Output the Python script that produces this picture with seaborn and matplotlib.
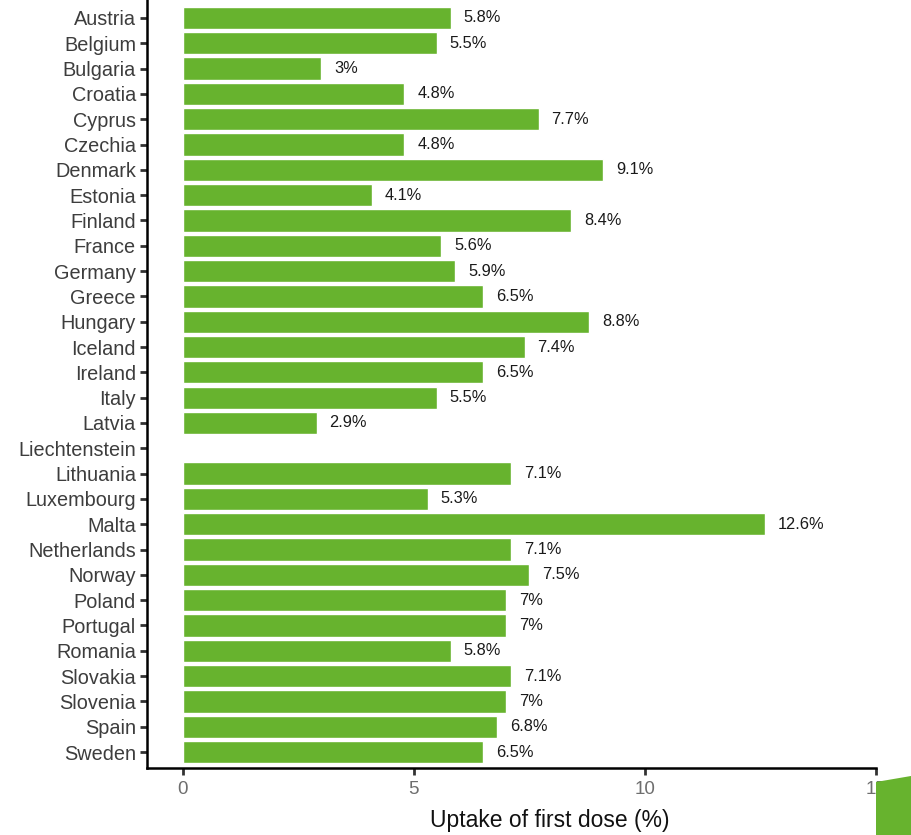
import matplotlib
matplotlib.use("Agg")
import matplotlib.pyplot as plt
import seaborn as sns
import numpy as np
import pandas as pd
from matplotlib.patches import Polygon

countries = ["Austria", "Belgium", "Bulgaria", "Croatia", "Cyprus", "Czechia", "Denmark",
             "Estonia", "Finland", "France", "Germany", "Greece", "Hungary", "Iceland",
             "Ireland", "Italy", "Latvia", "Liechtenstein", "Lithuania", "Luxembourg",
             "Malta", "Netherlands", "Norway", "Poland", "Portugal", "Romania", "Slovakia",
             "Slovenia", "Spain", "Sweden"]
uptake = [5.8, 5.5, 3, 4.8, 7.7, 4.8, 9.1, 4.1, 8.4, 5.6, 5.9, 6.5, 8.8, 7.4, 6.5, 5.5,
          2.9, np.nan, 7.1, 5.3, 12.6, 7.1, 7.5, 7, 7, 5.8, 7.1, 7, 6.8, 6.5]
x_ticks = [0, 5, 10, 15]

df = pd.DataFrame({"country": countries, "uptake": uptake})

sns.set_style("white")
plt.rcParams["font.family"] = ["Liberation Sans", "DejaVu Sans"]

fig = plt.figure(figsize=(9.11, 8.35), dpi=100)
ax = fig.add_axes([147 / 911, 1 - 768 / 835, (876 - 147) / 911, 768 / 835])

sns.barplot(data=df, x="uptake", y="country", order=countries, orient="h",
            color="#67B32E", saturation=1, width=0.88, errorbar=None, ax=ax)

for i, v in enumerate(uptake):
    if not np.isnan(v):
        ax.text(v + 0.28, i, f"{v:g}%", va="center", ha="left", fontsize=11.8, color="#1a1a1a")

ax.set_xlim(-0.77, 14.78)
ax.set_ylim(len(countries) - 1 + 0.63, -0.71)
ax.set_xticks(x_ticks)
ax.set_xticklabels([str(t) for t in x_ticks])
ax.set_ylabel("")
ax.set_xlabel("Uptake of first dose (%)", fontsize=16.5, color="#111111")
ax.xaxis.set_label_coords((550 - 147) / (876 - 147), -0.053)

for s in ["top", "right"]:
    ax.spines[s].set_visible(False)
for s in ["left", "bottom"]:
    ax.spines[s].set_visible(True)
    ax.spines[s].set_color("black")
    ax.spines[s].set_linewidth(1.8)

ax.tick_params(axis="y", length=5, width=2, color="#333333", labelsize=14.3, labelcolor="#3d3d3d", pad=3, left=True)
ax.tick_params(axis="x", length=5, width=2, color="#333333", labelsize=13.5, labelcolor="#6e6e6e", pad=4, bottom=True)
ax.grid(False)

# decorative green corner element
poly = Polygon([[876 / 911, 1 - 782 / 835], [911 / 911, 1 - 776 / 835],
                [911 / 911, 0], [876 / 911, 0]], closed=True,
               transform=fig.transFigure, facecolor="#67B32E", edgecolor="none", zorder=10)
fig.patches.append(poly)

fig.savefig("out.png", dpi=100)
